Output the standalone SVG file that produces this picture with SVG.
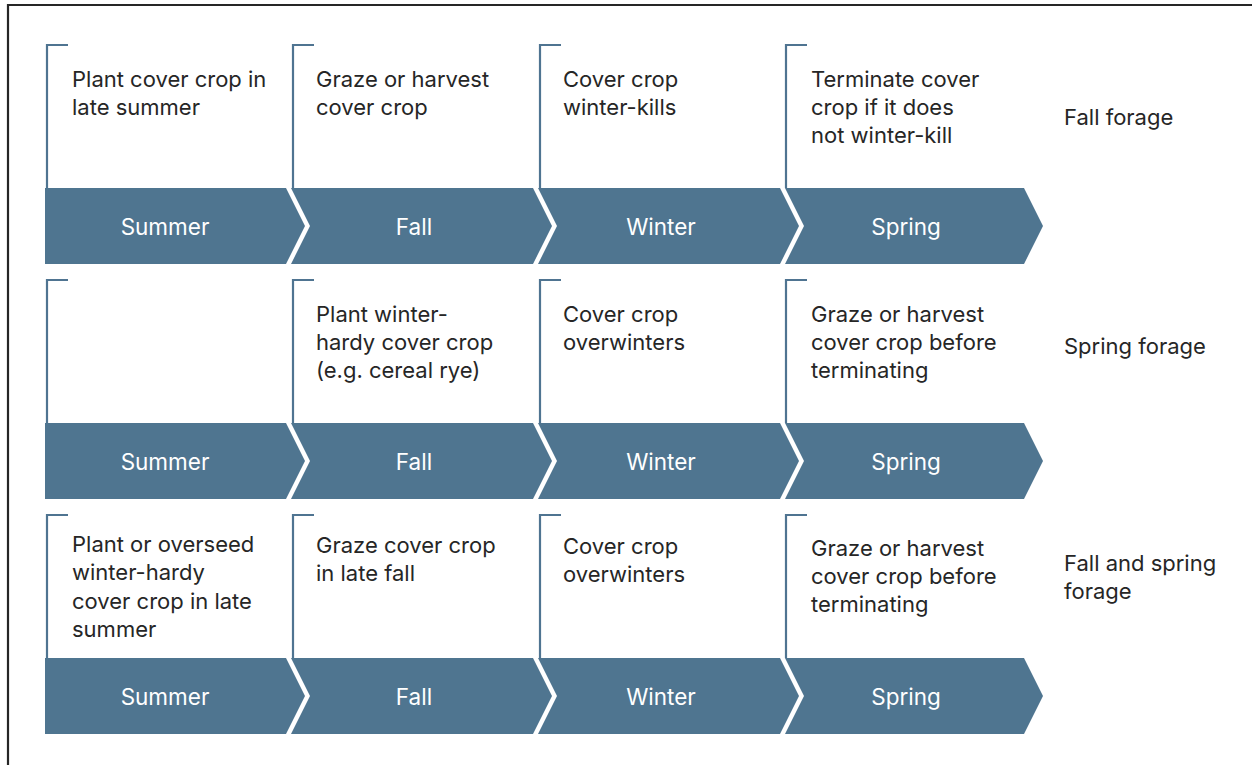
<svg xmlns="http://www.w3.org/2000/svg" width="1252" height="765" viewBox="0 0 1252 765">
<style>
.frame{fill:none;stroke:#262626;stroke-width:2.2}
.br{fill:none;stroke:#4f7491;stroke-width:2.2}
.band{fill:#4f7590}
.t{font-family:Inter,"Liberation Sans",sans-serif;font-size:22px;fill:#262626}
.bl{font-family:Inter,"Liberation Sans",sans-serif;font-size:22.5px;fill:#ffffff;text-anchor:middle}
</style>
<defs>
<path id="b0" class="band" d="M45,0 H286 L305,38 L286,76 H45 Z"/>
<path id="b1" class="band" d="M291,0 H533 L552,38 L533,76 H291 L310,38 Z"/>
<path id="b2" class="band" d="M538,0 H780 L799,38 L780,76 H538 L557,38 Z"/>
<path id="b3" class="band" d="M785,0 H1024 L1043,38 L1024,76 H785 L804,38 Z"/>
<path id="k0" class="br" d="M68,0 H47 V143"/>
<path id="k1" class="br" d="M314,0 H293 V143"/>
<path id="k2" class="br" d="M561,0 H540 V143"/>
<path id="k3" class="br" d="M807,0 H786 V143"/>
</defs>
<path class="frame" d="M8,765 V5 H1252"/>

<g id="row1">
<g id="r1-summer" transform="translate(0,45)"><use href="#k0"/><use href="#b0" y="143"/>
<text class="t" x="72" y="42">Plant cover crop in</text><text class="t" x="72" y="70">late summer</text>
<text class="bl" x="165" y="190">Summer</text></g>
<g id="r1-fall" transform="translate(0,45)"><use href="#k1"/><use href="#b1" y="143"/>
<text class="t" x="316" y="42">Graze or harvest</text><text class="t" x="316" y="70">cover crop</text>
<text class="bl" x="414" y="190">Fall</text></g>
<g id="r1-winter" transform="translate(0,45)"><use href="#k2"/><use href="#b2" y="143"/>
<text class="t" x="563" y="42">Cover crop</text><text class="t" x="563" y="70">winter-kills</text>
<text class="bl" x="661" y="190">Winter</text></g>
<g id="r1-spring" transform="translate(0,45)"><use href="#k3"/><use href="#b3" y="143"/>
<text class="t" x="811" y="42">Terminate cover</text><text class="t" x="811" y="70">crop if it does</text><text class="t" x="811" y="98">not winter-kill</text>
<text class="bl" x="906" y="190">Spring</text></g>
<text id="r1-label" class="t" x="1064" y="125">Fall forage</text>
</g>

<g id="row2">
<g id="r2-summer" transform="translate(0,280)"><use href="#k0"/><use href="#b0" y="143"/>
<text class="bl" x="165" y="190">Summer</text></g>
<g id="r2-fall" transform="translate(0,280)"><use href="#k1"/><use href="#b1" y="143"/>
<text class="t" x="316" y="42">Plant winter-</text><text class="t" x="316" y="70">hardy cover crop</text><text class="t" x="316" y="98">(e.g. cereal rye)</text>
<text class="bl" x="414" y="190">Fall</text></g>
<g id="r2-winter" transform="translate(0,280)"><use href="#k2"/><use href="#b2" y="143"/>
<text class="t" x="563" y="42">Cover crop</text><text class="t" x="563" y="70">overwinters</text>
<text class="bl" x="661" y="190">Winter</text></g>
<g id="r2-spring" transform="translate(0,280)"><use href="#k3"/><use href="#b3" y="143"/>
<text class="t" x="811" y="42">Graze or harvest</text><text class="t" x="811" y="70">cover crop before</text><text class="t" x="811" y="98">terminating</text>
<text class="bl" x="906" y="190">Spring</text></g>
<text id="r2-label" class="t" x="1064" y="354">Spring forage</text>
</g>

<g id="row3">
<g id="r3-summer" transform="translate(0,515)"><use href="#k0"/><use href="#b0" y="143"/>
<text class="t" x="72" y="37">Plant or overseed</text><text class="t" x="72" y="65">winter-hardy</text><text class="t" x="72" y="94">cover crop in late</text><text class="t" x="72" y="122">summer</text>
<text class="bl" x="165" y="190">Summer</text></g>
<g id="r3-fall" transform="translate(0,515)"><use href="#k1"/><use href="#b1" y="143"/>
<text class="t" x="316" y="38">Graze cover crop</text><text class="t" x="316" y="66">in late fall</text>
<text class="bl" x="414" y="190">Fall</text></g>
<g id="r3-winter" transform="translate(0,515)"><use href="#k2"/><use href="#b2" y="143"/>
<text class="t" x="563" y="39">Cover crop</text><text class="t" x="563" y="67">overwinters</text>
<text class="bl" x="661" y="190">Winter</text></g>
<g id="r3-spring" transform="translate(0,515)"><use href="#k3"/><use href="#b3" y="143"/>
<text class="t" x="811" y="41">Graze or harvest</text><text class="t" x="811" y="69">cover crop before</text><text class="t" x="811" y="97">terminating</text>
<text class="bl" x="906" y="190">Spring</text></g>
<text id="r3-label" class="t" x="1064" y="571">Fall and spring</text>
<text class="t" x="1064" y="599">forage</text>
</g>
</svg>
